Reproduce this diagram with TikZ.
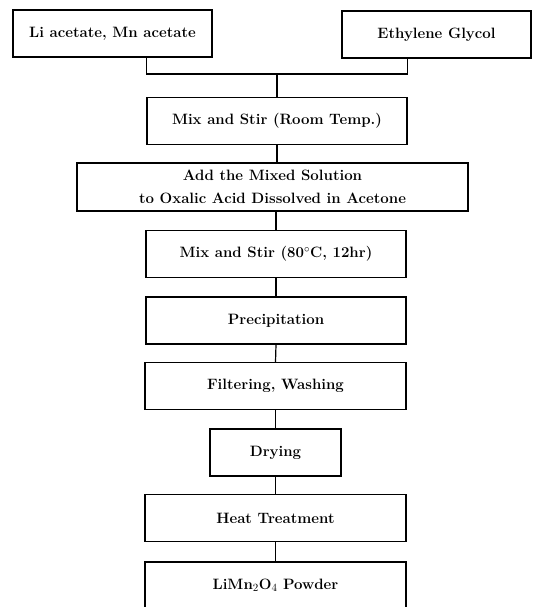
\documentclass[tikz,border=0pt]{standalone}
\usepackage{tikz}

\tikzset{
  stepbox/.style={draw, line width=1.2pt, inner sep=0pt, align=center,
    minimum height=47pt, font=\fontsize{15}{23}\selectfont\bfseries},
  link/.style={line width=1.2pt}
}

\begin{document}
\begin{tikzpicture}[x=1pt, y=-1pt]
    \useasboundingbox (0,0) rectangle (538,607);
    \clip (0,0) rectangle (538,607);

    % Starting materials
    \node[stepbox, minimum width=199pt] (liac) at (112.5,33.5) {Li acetate, Mn acetate};
    \node[stepbox, minimum width=189pt] (glycol) at (436.5,34.5) {Ethylene Glycol};

    % Process steps
    \node[stepbox, minimum width=260pt] (mixrt) at (277,121) {Mix and Stir (Room Temp.)};
    \node[stepbox, minimum width=391pt, minimum height=48pt] (oxalic) at (272.5,187)
        {Add the Mixed Solution\\to Oxalic Acid Dissolved in Acetone};
    \node[stepbox, minimum width=260pt] (mixhot) at (276,254) {Mix and Stir (80$^{\circ}$C, 12hr)};
    \node[stepbox, minimum width=260pt] (precip) at (276,320.5) {Precipitation};
    \node[stepbox, minimum width=261pt] (filter) at (275.5,386) {Filtering, Washing};
    \node[stepbox, minimum width=131pt] (dry) at (275.5,452.5) {Drying};
    \node[stepbox, minimum width=261pt] (heat) at (275.5,518) {Heat Treatment};
    % product box runs off the bottom edge
    \node[stepbox, minimum width=261pt] (powder) at (275.5,585.5) {LiMn$_2$O$_4$ Powder};

    % Joining the two inputs
    \coordinate (join) at (277,74);
    \draw[link] (liac.south -| mixrt.west) |- (join) -| (glycol.south -| mixrt.east);
    \draw[link] (join) -- (mixrt.north);

    % Step connectors
    \draw[link] (mixrt.south) -- (mixrt.south |- oxalic.north);
    \draw[link] (mixhot.north) -- (mixhot.north |- oxalic.south);
    \draw[link] (mixhot.south) -- (precip.north);
    \draw[link] (precip.south) -- (filter.north);
    \draw[link] (filter.south) -- (dry.north);
    \draw[link] (dry.south) -- (heat.north);
    \draw[link] (heat.south) -- (powder.north);
\end{tikzpicture}
\end{document}
